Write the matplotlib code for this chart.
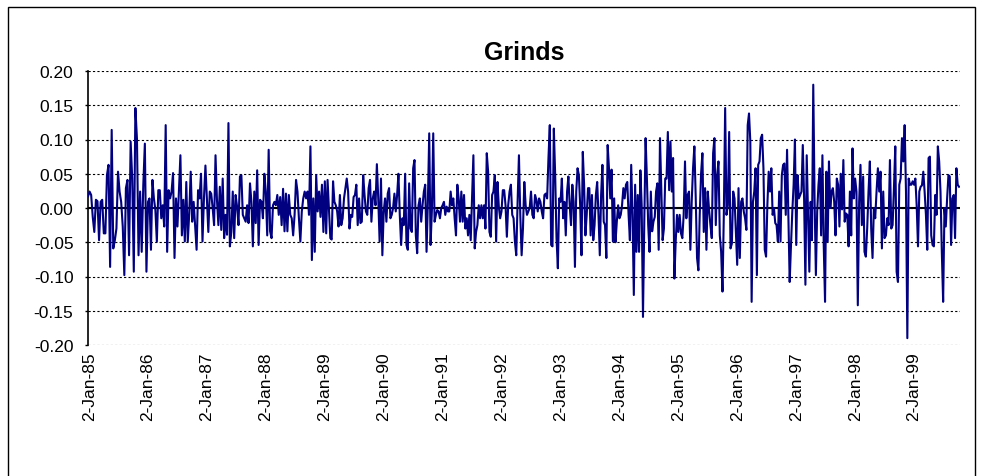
import matplotlib
matplotlib.use("Agg")
import matplotlib.pyplot as plt
import matplotlib.dates as mdates
import pandas as pd

# weekly returns, one list per calendar year
r1985 = [0.017, 0.024, 0.019, -0.013, -0.035, 0.012, 0.010, -0.047, 0.009, 0.012, -0.037, -0.037, 0.048,
         0.063, -0.086, 0.114, -0.059, -0.047, -0.030, 0.053, 0.024, 0.009, -0.027, -0.098, 0.029, 0.041,
         -0.069, 0.097, 0.043, -0.093, 0.146, 0.101, -0.069, 0.024, -0.064, 0.033, 0.094, -0.093]
r1986 = [0.009, 0.014, -0.061, 0.041, 0.014, -0.003, -0.049, 0.026, 0.026, -0.015, 0.004, -0.027,
         0.121, -0.064, 0.026, 0.014, 0.024, 0.051, -0.073, 0.014, -0.027, 0.024, 0.077, -0.040, 0.012,
         -0.049, 0.038, -0.049, -0.008, 0.053, -0.020, 0.009, -0.025, -0.061, 0.026, 0.014, 0.050, -0.049,
         0.014, 0.062]
r1987 = [0.014, -0.035, 0.024, 0.021, 0.000, -0.025, 0.077, 0.012, -0.025, 0.031, -0.032, 0.043, -0.044,
         -0.010, -0.039, 0.124, -0.056, -0.035, 0.024, -0.044, 0.019, 0.002, -0.025, 0.046, 0.048, -0.010,
         -0.015, -0.020, 0.004, -0.022, 0.036, 0.009, -0.056, 0.024, -0.022, 0.055, -0.054, 0.012, 0.009,
         -0.015, 0.050]
r1988 = [0.024, -0.040, 0.085, -0.034, -0.044, 0.004, 0.009, 0.004, 0.019, -0.010, 0.016, -0.025, 0.028,
         -0.034, 0.021, -0.034, 0.019, -0.010, -0.015, -0.040, -0.010, 0.041, 0.024, -0.015, -0.049, -0.005,
         0.014, 0.024, 0.014, 0.024, -0.010, 0.090, -0.076, 0.014, -0.064, 0.048, -0.005, 0.024, -0.013,
         0.034, -0.035]
r1989 = [0.039, -0.037, 0.041, 0.000, -0.044, -0.046, 0.039, 0.009, 0.004, -0.005, -0.027, 0.019, -0.025,
         -0.015, 0.014, 0.029, 0.043, 0.024, -0.030, -0.010, -0.013, 0.016, 0.019, 0.034, -0.025, 0.014,
         -0.022, -0.020, 0.048, 0.019, -0.005, -0.010, 0.029, 0.041, -0.020, 0.014, 0.024, 0.004, 0.064,
         0.014, -0.049, 0.043, -0.069]
r1990 = [-0.005, 0.014, -0.020, 0.021, 0.029, -0.015, -0.010, 0.000, 0.021, -0.005, 0.019, 0.050, -0.010,
         -0.054, -0.015, -0.025, 0.050, -0.054, -0.061, 0.036, -0.030, -0.035, 0.058, 0.070, -0.040, -0.066,
         0.004, 0.014, -0.020, 0.004, 0.024, 0.034, -0.064, 0.009, 0.109, -0.054, -0.003, 0.109, -0.020,
         -0.010, -0.003, -0.005, -0.015, 0.000]
r1991 = [0.004, 0.009, -0.010, 0.002, -0.005, -0.005, 0.024, 0.004, 0.014, -0.015, -0.040, 0.034, 0.014,
         -0.020, 0.024, -0.020, 0.019, -0.030, -0.015, -0.040, -0.010, -0.047, 0.014, 0.077, -0.059, -0.035,
         -0.025, 0.004, -0.015, 0.004, -0.015, 0.004, -0.030, 0.080, 0.053, -0.035, -0.042, 0.019, 0.024,
         0.048, -0.049, 0.038, 0.002, -0.015]
r1992 = [-0.005, 0.026, 0.026, 0.004, -0.042, 0.004, 0.024, 0.034, -0.010, -0.015, -0.049, -0.069, 0.009,
         0.077, -0.010, -0.069, -0.030, 0.038, 0.004, -0.010, -0.005, 0.000, 0.024, -0.010, -0.015, 0.019,
         0.012, -0.005, 0.014, 0.009, -0.005, -0.015, 0.019, 0.021, 0.014, 0.073, 0.121, -0.054, -0.056,
         0.116, 0.048, -0.044, -0.088, 0.014]
r1993 = [0.009, 0.043, -0.015, 0.009, -0.040, 0.024, 0.046, 0.004, -0.025, 0.034, 0.009, -0.086, 0.024,
         0.058, 0.048, 0.004, -0.069, 0.082, 0.034, -0.040, -0.010, 0.029, 0.029, -0.040, 0.019, -0.047,
         -0.025, 0.019, 0.038, -0.010, -0.069, 0.019, 0.063, -0.020, -0.025, -0.073, 0.092, 0.058, 0.014,
         0.056, -0.049, 0.014, -0.050, -0.020, 0.004]
r1994 = [-0.015, -0.010, 0.004, 0.029, 0.014, 0.034, 0.038, -0.010, -0.047, 0.063, -0.010, -0.127, 0.034,
         -0.064, 0.019, -0.064, 0.055, 0.004, -0.159, -0.020, 0.102, 0.043, -0.025, -0.064, 0.024, -0.034,
         -0.020, -0.013, 0.024, 0.036, -0.061, 0.102, 0.029, -0.047, -0.030, 0.043, 0.043, 0.111, 0.026,
         0.097, 0.024, 0.073, -0.103, -0.049, -0.010]
r1995 = [-0.035, -0.010, -0.037, -0.044, -0.010, 0.068, -0.015, 0.019, 0.024, -0.061, 0.009, 0.058, 0.090,
         0.016, -0.073, -0.091, -0.010, 0.050, 0.080, -0.035, 0.029, -0.061, 0.024, -0.003, -0.025, -0.044,
         0.080, 0.102, -0.025, 0.048, 0.068, -0.040, -0.064, -0.122, -0.010, 0.146, -0.010, 0.004, 0.111,
         -0.059, -0.052, 0.024, 0.014, -0.035]
r1996 = [-0.083, 0.029, -0.073, 0.009, 0.014, -0.005, -0.015, -0.032, 0.121, 0.138, 0.097, -0.137, 0.009,
         0.024, 0.058, -0.098, 0.063, 0.068, 0.102, 0.107, 0.058, -0.061, -0.071, 0.005, 0.053, 0.024, 0.058,
         -0.010, 0.000, -0.022, -0.025, -0.049, 0.024, -0.049, 0.048, 0.063, 0.065, -0.010, 0.085, -0.010,
         -0.108, -0.054, -0.005, 0.034, 0.100]
r1997 = [-0.054, 0.048, 0.014, 0.019, 0.024, 0.092, 0.014, -0.112, 0.077, -0.005, -0.093, 0.009, -0.047,
         0.180, 0.014, -0.098, -0.005, 0.034, 0.058, -0.040, 0.077, -0.054, -0.137, 0.053, -0.049, 0.068,
         0.000, 0.024, 0.029, 0.009, -0.040, 0.043, 0.034, -0.027, 0.050, -0.002, 0.070, -0.020, -0.008,
         -0.010, -0.056, 0.024, -0.040, 0.087, 0.014]
r1998 = [0.043, 0.024, -0.142, 0.009, 0.063, -0.025, 0.046, -0.064, -0.071, -0.030, 0.024, 0.068, -0.030,
         -0.073, 0.000, -0.015, 0.024, 0.058, 0.024, 0.053, -0.059, 0.024, -0.044, -0.040, -0.015, -0.025,
         0.070, -0.030, -0.025, 0.029, 0.090, -0.093, -0.108, 0.034, 0.043, 0.102, 0.068, 0.121, 0.024,
         -0.190, 0.043, 0.034, 0.034, 0.039]
r1999 = [0.034, 0.043, 0.004, -0.056, 0.024, 0.031, 0.033, 0.053, 0.024, -0.010, -0.061, 0.073, 0.075,
         -0.040, -0.054, -0.056, 0.019, -0.010, 0.090, 0.068, 0.024, -0.064, -0.137, 0.000, -0.027, 0.014,
         0.048, 0.046, -0.054, 0.014, 0.019, -0.044, 0.058, 0.034, 0.031]

years = list(range(1985, 2000))
yearly = [r1985, r1986, r1987, r1988, r1989, r1990, r1991, r1992,
          r1993, r1994, r1995, r1996, r1997, r1998, r1999]
first_date = pd.Timestamp("1984-12-26")
last_date = pd.Timestamp("1999-10-08")

dates = []
values = []
for yr, vals in zip(years, yearly):
    start = pd.Timestamp(yr, 1, 2) if yr > years[0] else first_date
    if yr == years[-1]:
        d = pd.date_range(start, last_date, periods=len(vals))
    else:
        d = pd.date_range(start, pd.Timestamp(yr + 1, 1, 2), periods=len(vals) + 1)[:-1]
    dates.extend(d)
    values.extend(vals)

plt.rcParams['font.family'] = ['Liberation Sans', 'DejaVu Sans']
fig = plt.figure(figsize=(9.82, 4.77), dpi=100)

ax = fig.add_axes([88 / 982, 1 - 346 / 477, (960 - 88) / 982, (346 - 72) / 477])
ax.plot(dates, values, color='#000080', lw=1.5, zorder=3)

ax.set_ylim(-0.2, 0.2)
ax.set_yticks([i * 0.05 for i in range(-4, 5)])
ax.yaxis.set_major_formatter(plt.FuncFormatter(lambda v, p: f"{v:.2f}"))
ax.set_xlim(first_date, pd.Timestamp("1999-10-14"))

ticks = [pd.Timestamp(y, 1, 2) for y in years]
ax.set_xticks(ticks)
ax.xaxis.set_major_formatter(mdates.DateFormatter("%-d-%b-%y"))
ax.tick_params(axis='x', rotation=90, length=0, labelsize=12.5, pad=4.5)
ax.tick_params(axis='y', length=2.5, labelsize=12.5, direction='out', width=1, pad=8)

ax.grid(axis='y', color='black', linestyle=(0, (2, 2)), lw=0.8)
ax.axhline(0, color='black', lw=1.5, zorder=2)
for s in ['top', 'right', 'bottom']:
    ax.spines[s].set_visible(False)
ax.spines['left'].set_linewidth(1.2)

ax.set_title("Grinds", fontsize=18, fontweight='bold', pad=9)

# chart-area frame; its bottom edge sits below the visible canvas
fig.patches.append(plt.Rectangle((8 / 982, -10 / 477), 967 / 982, 479 / 477, transform=fig.transFigure,
                                 fill=False, edgecolor='black', lw=1))

fig.savefig("out.png", dpi=100)
